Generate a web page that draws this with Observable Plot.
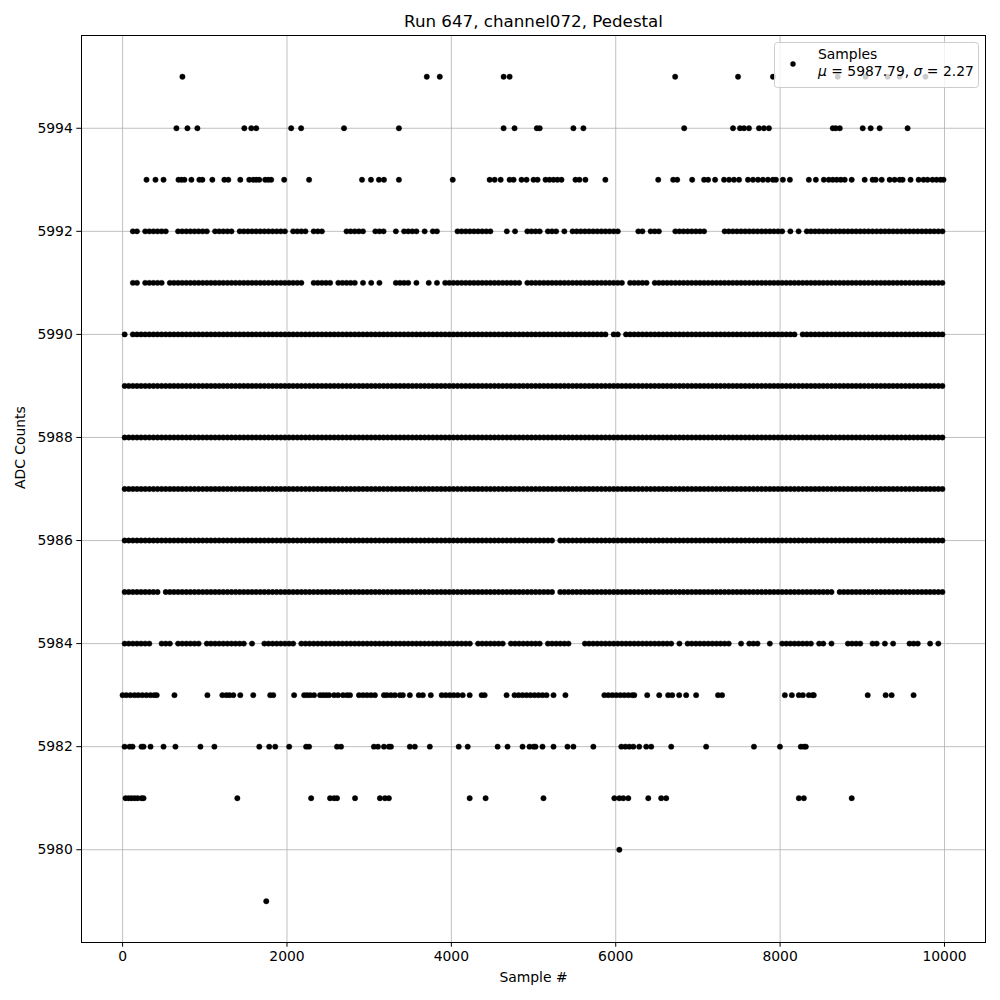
<!DOCTYPE html>
<html>
<head>
<meta charset="utf-8">
<script src="https://cdn.jsdelivr.net/npm/d3@7"></script>
<script src="https://cdn.jsdelivr.net/npm/@observablehq/plot@0.6"></script>
<style>
  body { margin: 0; background: #fff; }
  #chart svg { font-family: "DejaVu Sans", sans-serif; }
</style>
</head>
<body>
<div id="chart"></div>
<script>
// ---------------- text ----------------
const title = "Run 647, channel072, Pedestal";
const xLabel = "Sample #";
const yLabel = "ADC Counts";
const legendLabel = "Samples";
const legendMu = "5987.79";
const legendSigma = "2.27";

// ---------------- ticks ----------------
const xTicks = [0, 2000, 4000, 6000, 8000, 10000];
const yTicks = [5980, 5982, 5984, 5986, 5988, 5990, 5992, 5994];

// ---------------- sparse levels: sample indices ----------------
const samples5995 = [728, 3701, 3859, 4636, 4709, 6723, 7488, 7913, 8701, 9041, 9308, 9454, 9769];
const samples5994 = [655, 789, 910, 1481, 1566, 1626, 2051, 2172, 2694, 3362, 4636, 4769, 5040, 5075,
  5485, 5607, 6833, 7427, 7512, 7561, 7621, 7743, 7803, 7864, 8641, 8677, 8726, 9005, 9102, 9211, 9551];
const samples5993 = [291, 400, 498, 680, 716, 752, 837, 934, 971, 1092, 1238, 1286, 1432, 1541, 1590,
  1626, 1663, 1735, 1772, 1808, 1966, 2269, 2913, 3022, 3119, 3180, 3362, 4017, 4466, 4527, 4600, 4709,
  4757, 4854, 4915, 5000, 5049, 5146, 5194, 5243, 5291, 5340, 5510, 5558, 5631, 5874, 6517, 6699, 6748,
  6930, 7075, 7124, 7209, 7318, 7379, 7439, 7500, 7609, 7670, 7731, 7791, 7852, 7913, 7949, 8034, 8119,
  8350, 8435, 8532, 8592, 8641, 8689, 8738, 8786, 8871, 9029, 9126, 9163, 9236, 9333, 9393, 9454, 9490,
  9587, 9685, 9745, 9794, 9854, 9903, 9952, 9988];
const samples5983 = [0, 45, 95, 145, 190, 240, 290, 340, 385, 415, 631, 1032, 1214, 1262, 1299, 1347,
  1432, 1590, 1796, 1833, 2087, 2209, 2245, 2282, 2330, 2403, 2439, 2476, 2512, 2573, 2621, 2682, 2731,
  2767, 2876, 2925, 2973, 3022, 3070, 3180, 3216, 3265, 3313, 3374, 3410, 3495, 3604, 3653, 3750, 3883,
  3932, 3981, 4029, 4078, 4138, 4223, 4369, 4405, 4672, 4769, 4818, 4866, 4915, 4963, 5012, 5061, 5109,
  5158, 5243, 5388, 5862, 5910, 5959, 6007, 6056, 6104, 6153, 6201, 6226, 6383, 6529, 6638, 6687, 6772,
  6857, 6978, 7245, 7294, 8058, 8143, 8228, 8277, 8350, 8398, 8410, 9066, 9284, 9357, 9624];
const samples5982 = [24, 85, 121, 230, 255, 340, 498, 643, 947, 1117, 1663, 1784, 1857, 2027, 2233,
  2269, 2609, 2658, 3058, 3107, 3180, 3240, 3265, 3495, 3556, 3738, 4090, 4199, 4563, 4684, 4866, 4951,
  5000, 5024, 5109, 5243, 5413, 5485, 5728, 6068, 6117, 6165, 6214, 6286, 6371, 6432, 6675, 7100, 7682,
  7998, 8252, 8289, 8313];
const samples5981 = [36, 73, 109, 146, 182, 230, 255, 1396, 2294, 2524, 2573, 2609, 2828, 3131, 3192,
  3240, 4223, 4417, 5121, 5983, 6044, 6092, 6153, 6396, 6553, 6614, 8228, 8289, 8871];
const samples5980 = [6044];
const samples5979 = [1748];

// ---------------- dense levels: occupancy ----------------
// one character per 50-sample bin ("1" = dots present), ten chunks of 1000 samples
const binWidth = 50;
const occ5992 = ["00110111111001111111", "10111110111111111111", "01111011100000111110", "01110010111101011000",
  "01111111110001010011", "11011101011111111111", "10000110111000111111", "11000011111111111111",
  "10101011111111111111", "11111111111111111111"].join("");
const occ5991 = ["00110111110111111111", "11111111111111111111", "11110011111011111010", "10100011110100101011",
  "11111111111111111011", "11111111111111111111", "11011111011111111111", "11111111111111111111",
  "11111111111111111111", "11111111111111111111"].join("");
const occ5990 = ["10111111111111111111", "11111111111111111111", "11111111111111111111", "11111111111111111111",
  "11111111111111111111", "11111111111111111101", "10111111111111111111", "11111111111111111111",
  "11110111111111111111", "11111111111111111111"].join("");
const occ5989 = ["11111111111111111111", "11111111111111111111", "11111111111111111111", "11111111111111111111",
  "11111111111111111111", "11111111111111111111", "11111111111111111111", "11111111111111111111",
  "11111111111111111111", "11111111111111111111"].join("");
const occ5988 = ["11111111111111111111", "11111111111111111111", "11111111111111111111", "11111111111111111111",
  "11111111111111111111", "11111111111111111111", "11111111111111111111", "11111111111111111111",
  "11111111111111111111", "11111111111111111111"].join("");
const occ5987 = ["11111111111111111111", "11111111111111111111", "11111111111111111111", "11111111111111111111",
  "11111111111111111111", "11111111111111111111", "11111111111111111111", "11111111111111111111",
  "11111111111111111111", "11111111111111111111"].join("");
const occ5986 = ["11111111111111111111", "11111111111111111111", "11111111111111111111", "11111111111111111111",
  "11111111111111111111", "11111011111111111111", "11111111111111111111", "11111111111111111111",
  "11111111111111111111", "11111111111111111111"].join("");
const occ5985 = ["11111111101111111111", "11111111111111111111", "11111111111111111111", "11111111111111111111",
  "11111111111111111111", "11111011111111111111", "11111111111111111111", "11111111111111111111",
  "11111111111110111111", "11111111111111111111"].join("");
const occ5984 = ["11111110011101111110", "11111111110100111111", "11011111111111111111", "11111111111111111111",
  "11111011111110111111", "11011111100011111111", "11111111111111010111", "11111111001011100100",
  "11111111011010001111", "00110101000111001010"].join("");

// ---------------- assemble table ----------------
const sparse = [[5995, samples5995], [5994, samples5994], [5993, samples5993], [5983, samples5983],
  [5982, samples5982], [5981, samples5981], [5980, samples5980], [5979, samples5979]];
const dense = [[5992, occ5992], [5991, occ5991], [5990, occ5990], [5989, occ5989], [5988, occ5988],
  [5987, occ5987], [5986, occ5986], [5985, occ5985], [5984, occ5984]];
const data = [];
for (const [adc, xs] of sparse) for (const s of xs) data.push({sample: s, adc});
for (const [adc, occ] of dense) {
  for (let i = 0; i < occ.length; i++) if (occ[i] === "1") data.push({sample: i * binWidth + binWidth / 2, adc});
}

// ---------------- plot ----------------
const fs = 13.9;
const chart = Plot.plot({
  width: 1000,
  height: 1000,
  marginTop: 35,
  marginBottom: 58,
  marginLeft: 81,
  marginRight: 15,
  style: {fontFamily: "DejaVu Sans, sans-serif", fontSize: fs + "px", color: "black", background: "white"},
  x: {domain: [-500, 10499], label: null},
  y: {domain: [5978.2, 5995.8], label: null},
  marks: [
    Plot.gridX(xTicks, {stroke: "#b0b0b0", strokeOpacity: 1, strokeWidth: 0.8}),
    Plot.gridY(yTicks, {stroke: "#b0b0b0", strokeOpacity: 1, strokeWidth: 0.8}),
    Plot.dot(data, {x: "sample", y: "adc", r: 2.7, fill: "black", stroke: "black", strokeWidth: 0.4}),
    Plot.frame({stroke: "black", strokeWidth: 1}),
    Plot.axisX(xTicks, {tickSize: 4.7, tickPadding: 4, fontSize: fs, tickFormat: d => String(d), label: null}),
    Plot.axisY(yTicks, {tickSize: 4.7, tickPadding: 4, fontSize: fs, tickFormat: d => String(d), label: null}),
    Plot.text([title], {frameAnchor: "top", dy: -14, fontSize: 16.7, lineAnchor: "middle", fill: "black"}),
    Plot.text([xLabel], {frameAnchor: "bottom", dy: 35, fontSize: fs, lineAnchor: "middle", fill: "black"}),
    Plot.text([yLabel], {frameAnchor: "left", dx: -61, rotate: -90, fontSize: fs, lineAnchor: "middle", fill: "black"})
  ]
});
document.getElementById("chart").appendChild(chart);

// ---------------- legend (layout box, upper right of frame) ----------------
const svg = d3.select(chart);
const lg = svg.append("g").attr("class", "legend").attr("text-anchor", "start");
lg.append("rect").attr("x", 774.5).attr("y", 42.5).attr("width", 204).attr("height", 45)
  .attr("rx", 3).attr("fill", "white").attr("fill-opacity", 0.8).attr("stroke", "#cccccc").attr("stroke-width", 1);
lg.append("circle").attr("cx", 793).attr("cy", 64).attr("r", 2.7).attr("fill", "black");
lg.append("text").attr("x", 818).attr("y", 59).attr("text-anchor", "start").attr("font-size", fs)
  .attr("fill", "black").text(legendLabel);
const t2 = lg.append("text").attr("x", 818).attr("y", 76).attr("text-anchor", "start")
  .attr("font-size", fs).attr("fill", "black");
t2.append("tspan").attr("font-style", "italic").text("μ");
t2.append("tspan").text(" = " + legendMu + ", ");
t2.append("tspan").attr("font-style", "italic").text("σ");
t2.append("tspan").text(" = " + legendSigma);
</script>
</body>
</html>
